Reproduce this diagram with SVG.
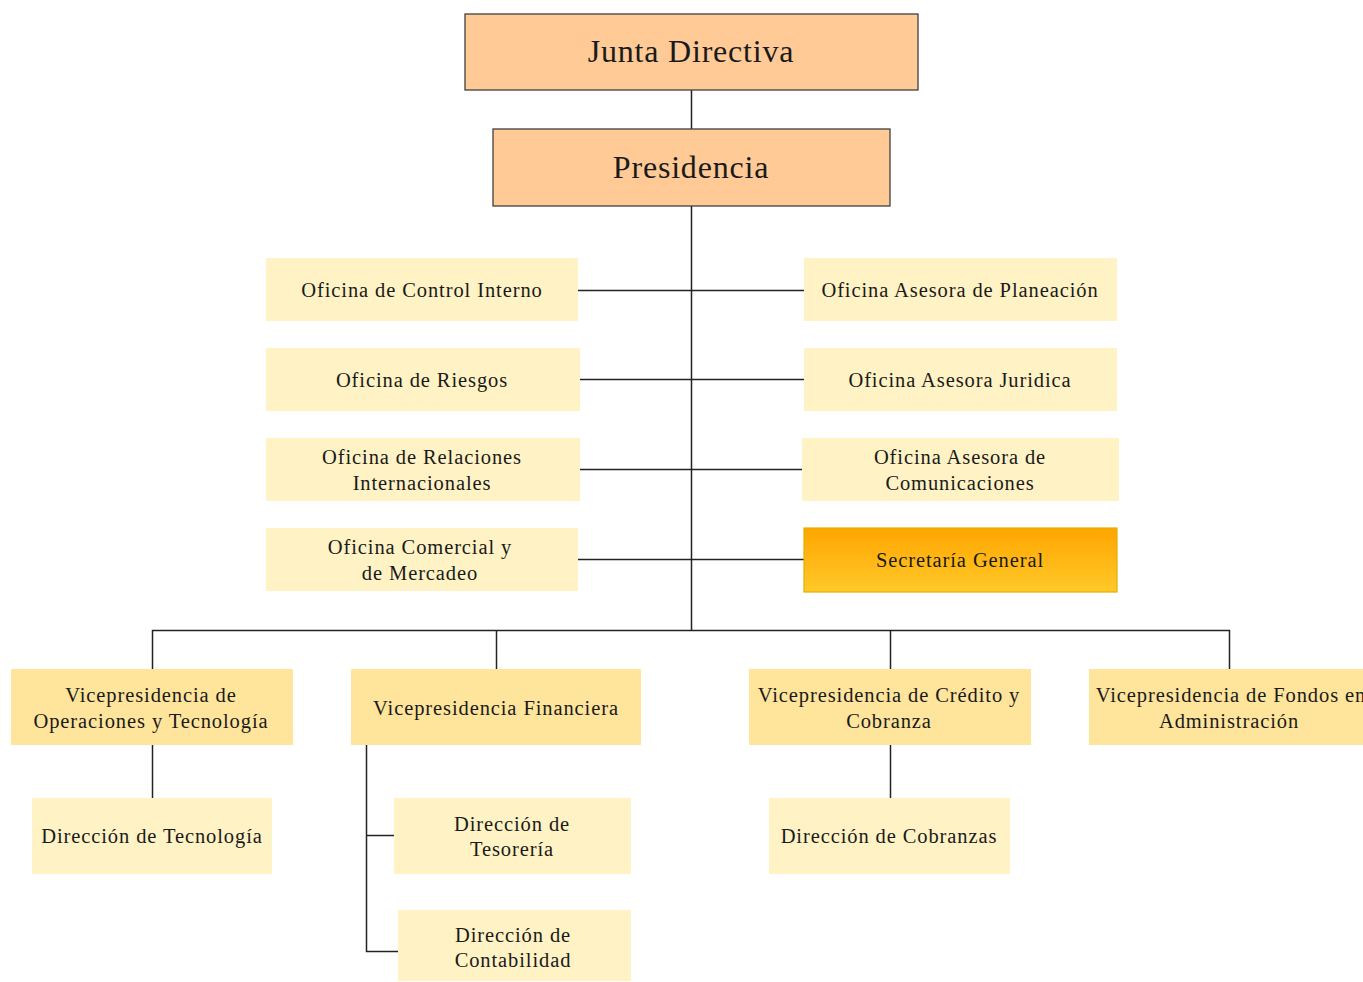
<svg xmlns="http://www.w3.org/2000/svg" width="1363" height="982" viewBox="0 0 1363 982">
  <defs>
    <linearGradient id="gradSecretaria" x1="0" y1="0" x2="0" y2="1">
      <stop offset="0" stop-color="#FFA500"/>
      <stop offset="1" stop-color="#FFC929"/>
    </linearGradient>
    <style>
      .top { fill: #FFCA96; stroke: #404040; stroke-width: 1.3; }
      .office { fill: #FFF2C4; }
      .vp { fill: #FFE49B; }
      .dir { fill: #FFF2C4; }
      .sec { fill: url(#gradSecretaria); stroke: #E2B000; stroke-width: 1.2; }
      .conn { fill: none; stroke: #222; stroke-width: 1.5; }
      text { font-family: "Liberation Serif", "Times New Roman", serif; fill: #1a1a1a; text-anchor: middle; }
      .t-big { font-size: 32px; letter-spacing: 0.8px; }
      .t { font-size: 20.5px; letter-spacing: 0.9px; }
    </style>
  </defs>
  <rect width="1363" height="982" fill="#fff"/>

  <!-- connectors -->
  <g id="connectors" class="conn">
    <line x1="691.5" y1="90" x2="691.5" y2="630"/>
    <line x1="578" y1="290.5" x2="804" y2="290.5"/>
    <line x1="580" y1="379.5" x2="804" y2="379.5"/>
    <line x1="580" y1="469.5" x2="802" y2="469.5"/>
    <line x1="578" y1="559.5" x2="804" y2="559.5"/>
    <polyline points="152.5,669 152.5,630.5 1229.5,630.5 1229.5,669"/>
    <line x1="496.5" y1="630" x2="496.5" y2="669"/>
    <line x1="890.5" y1="630" x2="890.5" y2="669"/>
    <line x1="152.5" y1="745" x2="152.5" y2="798"/>
    <polyline points="366.5,745 366.5,951.5 398,951.5"/>
    <line x1="366" y1="835.5" x2="394" y2="835.5"/>
    <line x1="890.5" y1="745" x2="890.5" y2="798"/>
  </g>

  <g id="junta">
    <rect class="top" x="465" y="14" width="453" height="76"/>
    <text class="t-big" x="691" y="62">Junta Directiva</text>
  </g>
  <g id="presidencia">
    <rect class="top" x="493" y="129" width="397" height="77"/>
    <text class="t-big" x="691" y="178">Presidencia</text>
  </g>

  <g id="control-interno">
    <rect class="office" x="266" y="258" width="312" height="63"/>
    <text class="t" x="422" y="297">Oficina de Control Interno</text>
  </g>
  <g id="riesgos">
    <rect class="office" x="266" y="348" width="314" height="63"/>
    <text class="t" x="422" y="387">Oficina de Riesgos</text>
  </g>
  <g id="relaciones">
    <rect class="office" x="266" y="438" width="314" height="63"/>
    <text class="t" x="422" y="464">Oficina de Relaciones</text>
    <text class="t" x="422" y="490">Internacionales</text>
  </g>
  <g id="comercial">
    <rect class="office" x="266" y="528" width="312" height="63"/>
    <text class="t" x="420" y="554">Oficina Comercial y</text>
    <text class="t" x="420" y="580">de Mercadeo</text>
  </g>

  <g id="planeacion">
    <rect class="office" x="804" y="258" width="313" height="63"/>
    <text class="t" x="960" y="297">Oficina Asesora de Planeación</text>
  </g>
  <g id="juridica">
    <rect class="office" x="804" y="348" width="313" height="63"/>
    <text class="t" x="960" y="387">Oficina Asesora Juridica</text>
  </g>
  <g id="comunicaciones">
    <rect class="office" x="802" y="438" width="317" height="63"/>
    <text class="t" x="960" y="464">Oficina Asesora de</text>
    <text class="t" x="960" y="490">Comunicaciones</text>
  </g>
  <g id="secretaria">
    <rect class="sec" x="804" y="528" width="313" height="64"/>
    <text class="t" x="960" y="567">Secretaría General</text>
  </g>

  <g id="vp-operaciones">
    <rect class="vp" x="11" y="669" width="282" height="76"/>
    <text class="t" x="151" y="702">Vicepresidencia de</text>
    <text class="t" x="151" y="728">Operaciones y Tecnología</text>
  </g>
  <g id="vp-financiera">
    <rect class="vp" x="351" y="669" width="290" height="76"/>
    <text class="t" x="496" y="715">Vicepresidencia Financiera</text>
  </g>
  <g id="vp-credito">
    <rect class="vp" x="749" y="669" width="282" height="76"/>
    <text class="t" x="889" y="702">Vicepresidencia de Crédito y</text>
    <text class="t" x="889" y="728">Cobranza</text>
  </g>
  <g id="vp-fondos">
    <rect class="vp" x="1089" y="669" width="280" height="76"/>
    <text class="t" x="1231" y="702">Vicepresidencia de Fondos en</text>
    <text class="t" x="1229" y="728">Administración</text>
  </g>

  <g id="dir-tecnologia">
    <rect class="dir" x="32" y="798" width="240" height="76"/>
    <text class="t" x="152" y="843">Dirección de Tecnología</text>
  </g>
  <g id="dir-tesoreria">
    <rect class="dir" x="394" y="798" width="237" height="76"/>
    <text class="t" x="512" y="831">Dirección de</text>
    <text class="t" x="512" y="856">Tesorería</text>
  </g>
  <g id="dir-contabilidad">
    <rect class="dir" x="398" y="910" width="233" height="71"/>
    <text class="t" x="513" y="942">Dirección de</text>
    <text class="t" x="513" y="967">Contabilidad</text>
  </g>
  <g id="dir-cobranzas">
    <rect class="dir" x="769" y="798" width="241" height="76"/>
    <text class="t" x="889" y="843">Dirección de Cobranzas</text>
  </g>
</svg>
